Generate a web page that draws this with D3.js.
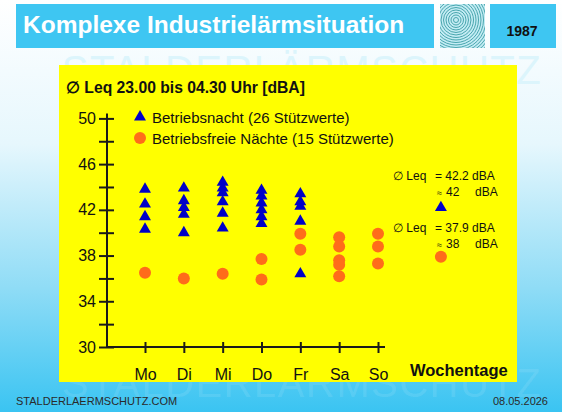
<!DOCTYPE html>
<html>
<head>
<meta charset="utf-8">
<script src="https://cdn.jsdelivr.net/npm/d3@7"></script>
<style>
  body { margin: 0; padding: 0; }
  svg { display: block; font-family: "Liberation Sans", Arial, sans-serif; }
</style>
</head>
<body>
<svg id="chart"></svg>
<script>
// Weekdays on the x axis
const days = ['Mo', 'Di', 'Mi', 'Do', 'Fr', 'Sa', 'So'];

// Betriebsnacht (26 Stützwerte), grouped by weekday
const nightWork = [
    [43.8, 42.5, 41.4, 40.3],
    [43.9, 42.8, 42.2, 41.6, 40.0],
    [44.4, 43.9, 43.5, 42.7, 41.7, 40.4],
    [43.7, 43.2, 42.6, 42.0, 41.4, 40.8],
    [43.4, 42.7, 42.3, 41.0, 36.4],
    [],
    []
];

// Betriebsfreie Nächte (15 Stützwerte), grouped by weekday
const nightFree = [
    [36.5],
    [36.0],
    [36.4],
    [37.7, 35.9],
    [39.9, 38.5],
    [39.6, 38.8, 37.6, 37.2, 36.2],
    [39.9, 38.8, 37.3]
];

// Averages shown on the right
const avgWork = 42.2;
const avgFree = 37.9;

const yTicks = [30, 32, 34, 36, 38, 40, 42, 44, 46, 48, 50];
const yLabels = [30, 34, 38, 42, 46, 50];

const W = 562, H = 412;
const svg = d3.select('#chart').attr('width', W).attr('height', H);

// Background gradient
const defs = svg.append('defs');
const grad = defs.append('linearGradient')
    .attr('id', 'bg').attr('x1', 0).attr('y1', 0).attr('x2', 0).attr('y2', 1);
grad.append('stop').attr('offset', '0%').attr('stop-color', '#ffffff');
grad.append('stop').attr('offset', '35%').attr('stop-color', '#e6f7fd');
grad.append('stop').attr('offset', '70%').attr('stop-color', '#8fdcf6');
grad.append('stop').attr('offset', '100%').attr('stop-color', '#3ac4f2');

svg.append('rect').attr('width', W).attr('height', H).attr('fill', 'url(#bg)');

// Watermarks
svg.append('text')
    .attr('x', 302).attr('y', 84)
    .attr('text-anchor', 'middle')
    .style('font-size', '40px')
    .style('letter-spacing', '1.5px')
    .attr('fill', '#dcf5fc')
    .text('STALDERLÄRMSCHUTZ');

svg.append('text')
    .attr('x', 302).attr('y', 397)
    .attr('text-anchor', 'middle')
    .style('font-size', '40px')
    .style('letter-spacing', '1.5px')
    .attr('fill', '#ffffff')
    .attr('fill-opacity', 0.1)
    .text('STALDERLÄRMSCHUTZ');

// Header bar
svg.append('rect').attr('x', 16).attr('y', 4).attr('width', 418).attr('height', 44).attr('fill', '#3ec6f2');
svg.append('text')
    .attr('x', 23).attr('y', 33)
    .attr('fill', '#ffffff')
    .style('font-size', '24.5px')
    .style('font-weight', 'bold')
    .text('Komplexe Industrielärmsituation');

// Logo with concentric rings
defs.append('clipPath').attr('id', 'logoClip')
    .append('rect').attr('x', 440).attr('y', 4).attr('width', 45).attr('height', 44);
svg.append('rect').attr('x', 440).attr('y', 4).attr('width', 45).attr('height', 44).attr('fill', '#c4ecf4');
svg.append('g').attr('clip-path', 'url(#logoClip)')
    .selectAll('circle')
    .data(d3.range(2.5, 50, 2.5))
    .join('circle')
    .attr('cx', 456).attr('cy', 20).attr('r', d => d)
    .attr('fill', 'none')
    .attr('stroke', '#3b9ea6')
    .attr('stroke-width', 0.9);

// Year box
svg.append('rect').attr('x', 490).attr('y', 4).attr('width', 66).attr('height', 44).attr('fill', '#3ec6f2');
svg.append('text')
    .attr('x', 522).attr('y', 36)
    .attr('text-anchor', 'middle')
    .attr('fill', '#111')
    .style('font-size', '14px')
    .style('font-weight', 'bold')
    .text('1987');

// Yellow panel
svg.append('rect').attr('x', 59).attr('y', 65).attr('width', 458).attr('height', 317).attr('fill', '#ffff00');

// Scales
const x = d3.scaleLinear().domain([0, days.length - 1]).range([145, 378]);
const y = d3.scaleLinear().domain([30, 50]).range([347, 118.4]);
const step = x(1) - x(0);

const axisColor = '#1a1a1a';

// Y axis
const yAxis = d3.axisLeft(y)
    .tickValues(yTicks)
    .tickSize(7)
    .tickFormat(d => yLabels.includes(d) ? d : '');

const yAxisG = svg.append('g')
    .attr('transform', 'translate(107,0)')
    .call(yAxis);
yAxisG.select('.domain').remove();
yAxisG.selectAll('.tick line')
    .attr('x1', -8).attr('x2', 7)
    .attr('stroke', axisColor).attr('stroke-width', 2);
yAxisG.selectAll('.tick text')
    .attr('x', -11)
    .attr('fill', '#111')
    .style('font-size', '16px')
    .style('font-family', '"Liberation Sans", Arial, sans-serif');
svg.append('line')
    .attr('x1', 107).attr('x2', 107)
    .attr('y1', y(30)).attr('y2', y(50) - 5)
    .attr('stroke', axisColor).attr('stroke-width', 2);

// X axis
const xAxis = d3.axisBottom(x)
    .tickValues(d3.range(days.length))
    .tickSize(6)
    .tickFormat(i => days[i]);

const xAxisG = svg.append('g')
    .attr('transform', `translate(0,${y(30)})`)
    .call(xAxis);
xAxisG.select('.domain').remove();
xAxisG.selectAll('.tick line')
    .attr('y1', -5).attr('y2', 6)
    .attr('stroke', axisColor).attr('stroke-width', 2);
xAxisG.selectAll('.tick text')
    .attr('y', 22)
    .attr('fill', '#111')
    .style('font-size', '16px')
    .style('font-family', '"Liberation Sans", Arial, sans-serif');
svg.append('line')
    .attr('x1', 107).attr('x2', x(days.length - 1) + 7)
    .attr('y1', y(30)).attr('y2', y(30))
    .attr('stroke', axisColor).attr('stroke-width', 2);

svg.append('text')
    .attr('x', 410).attr('y', y(30) + 29)
    .attr('fill', '#111')
    .style('font-size', '16.5px')
    .style('font-weight', 'bold')
    .text('Wochentage');

// Panel title
svg.append('text')
    .attr('x', 66).attr('y', 93)
    .attr('fill', '#111')
    .style('font-size', '15.7px')
    .style('font-weight', 'bold')
    .text('∅ Leq 23.00 bis 04.30 Uhr [dBA]');

// Markers
const triangle = d3.symbol().type(d3.symbolTriangle).size(62);
const blue = '#0000c8';
const orange = '#ff6c1a';

const workPts = nightWork.flatMap((vals, i) => vals.map(v => ({ i, v })));
const freePts = nightFree.flatMap((vals, i) => vals.map(v => ({ i, v })));

svg.append('g').selectAll('circle')
    .data(freePts)
    .join('circle')
    .attr('cx', d => x(d.i))
    .attr('cy', d => y(d.v))
    .attr('r', 6)
    .attr('fill', orange);

svg.append('g').selectAll('path')
    .data(workPts)
    .join('path')
    .attr('d', triangle)
    .attr('transform', d => `translate(${x(d.i)},${y(d.v)})`)
    .attr('fill', blue);

// Legend
const legend = svg.append('g');
legend.append('path')
    .attr('d', triangle)
    .attr('transform', 'translate(140,117)')
    .attr('fill', blue);
legend.append('text')
    .attr('x', 152).attr('y', 123)
    .attr('fill', '#111')
    .style('font-size', '15px')
    .text('Betriebsnacht (26 Stützwerte)');
legend.append('circle')
    .attr('cx', 140).attr('cy', 138).attr('r', 6)
    .attr('fill', orange);
legend.append('text')
    .attr('x', 152).attr('y', 144)
    .attr('fill', '#111')
    .style('font-size', '15px')
    .text('Betriebsfreie Nächte (15 Stützwerte)');

// Averages
const avgX = x(days.length - 1) + step * 1.62;

function avgBlock(value, baseY) {
    const g = svg.append('g').attr('fill', '#111').style('font-size', '12px');
    g.append('text').attr('x', 393).attr('y', baseY).text('∅ Leq');
    g.append('text').attr('x', 435).attr('y', baseY).text(`= ${value.toFixed(1)} dBA`);
    g.append('text').attr('x', 437).attr('y', baseY + 16).style('font-size', '9px').text('≈');
    g.append('text').attr('x', 446).attr('y', baseY + 16).text(Math.round(value));
    g.append('text').attr('x', 475).attr('y', baseY + 16).text('dBA');
}
avgBlock(avgWork, 180);
avgBlock(avgFree, 232);

svg.append('path')
    .attr('d', triangle)
    .attr('transform', `translate(${avgX},${y(avgWork)})`)
    .attr('fill', blue);
svg.append('circle')
    .attr('cx', avgX).attr('cy', y(avgFree)).attr('r', 6)
    .attr('fill', orange);

// Footer
svg.append('text')
    .attr('x', 16).attr('y', 405)
    .attr('fill', '#2a2a2a')
    .style('font-size', '11px')
    .text('STALDERLAERMSCHUTZ.COM');
svg.append('text')
    .attr('x', 548).attr('y', 405)
    .attr('text-anchor', 'end')
    .attr('fill', '#2a2a2a')
    .style('font-size', '11px')
    .text('08.05.2026');
</script>
</body>
</html>
